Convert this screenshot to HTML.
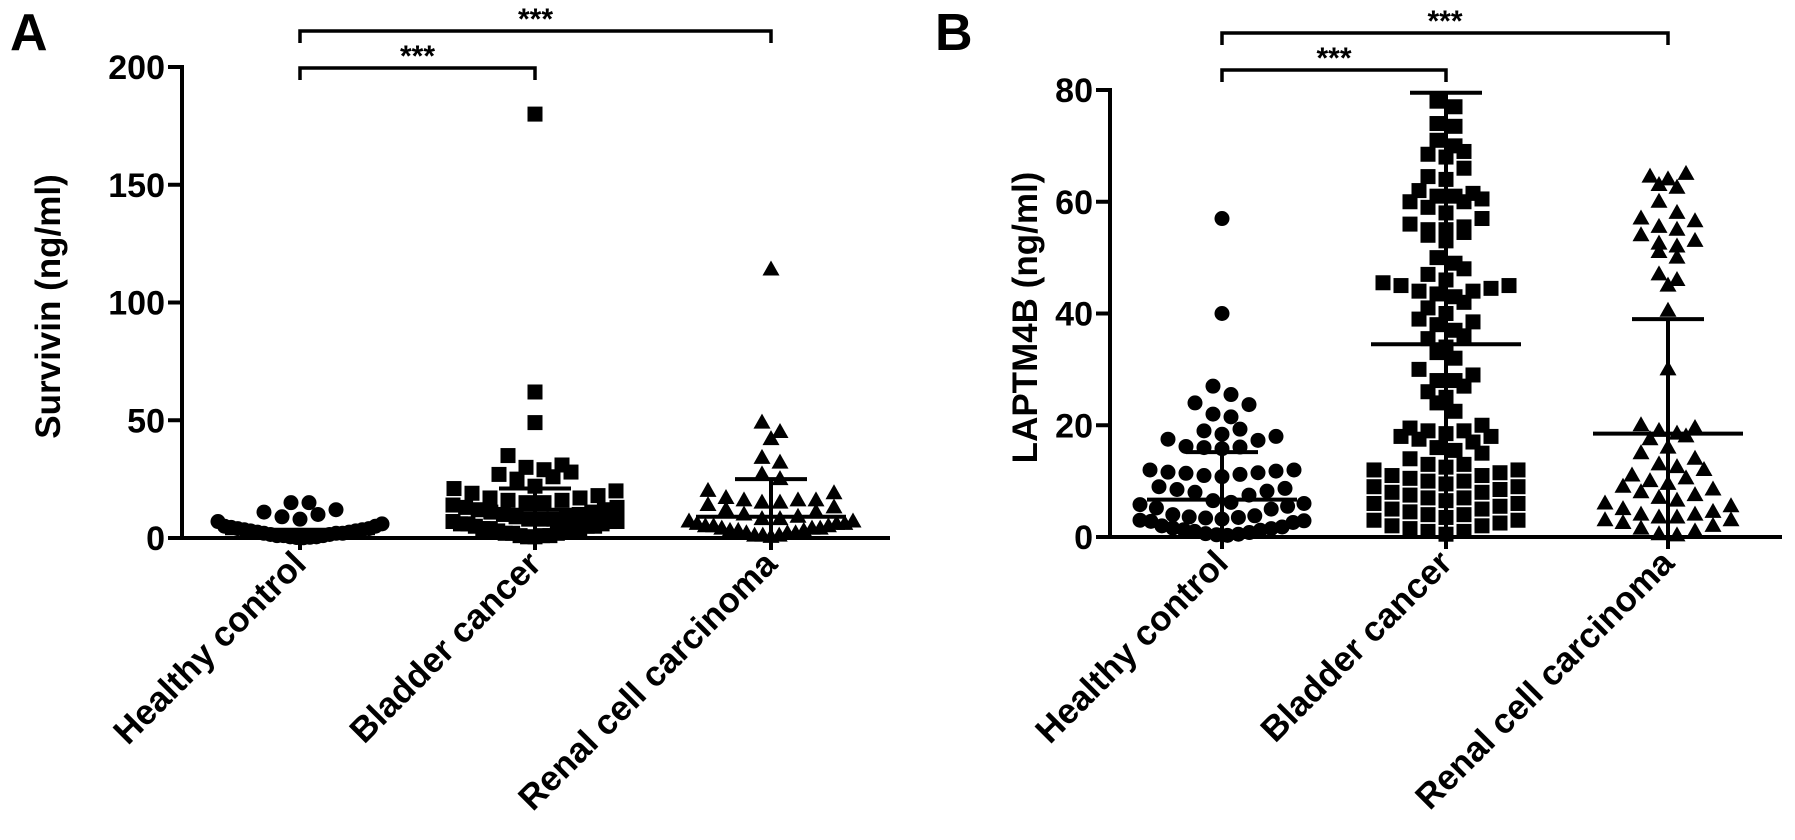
<!DOCTYPE html>
<html><head><meta charset="utf-8">
<style>
html,body{margin:0;padding:0;background:#fff;}
svg{display:block;font-family:"Liberation Sans",Arial,sans-serif;}
</style></head>
<body>
<svg id="fig" width="1795" height="840" viewBox="0 0 1795 840" xmlns="http://www.w3.org/2000/svg">
<g id="panelA"></g>
<g id="panelB"></g>
</svg>
<script>
// ---- data ----
const categories = ["Healthy control", "Bladder cancer", "Renal cell carcinoma"];
const aTicks = [0, 50, 100, 150, 200];
const bTicks = [0, 20, 40, 60, 80];
const aHealthy = [15,15,12,11,10,9,8,7,6,5,5,4.5,4,4,3.5,3.5,3,3,2.5,2.5,2,2,2,1.5,1.5,1,1,1,0.5,0.5,0.3,0.2,0.1];
const aBladder = [180,62,49,35,31,30,29,28,27,26,25,22,21,20,19,18,17,17,16,16,15,15,14,13,13,12,12,11,11,10,10,9,9,8,8,8,7,7,7,6,6,6,5,5,5,4,4,4,3,3,3,2,2,2,1,1,1,0.5,0.5];
const aRenal = [114,49,45,42,34,32,27,25,20,19,17,16,16,16,15,15,14,13,12,11,10,9,8,8,7,7,6,6,6,5,5,5,4,4,4,3,3,3,2,2,2,1,1,1,0.5];
const aMeans = [2, 12, 9];
const aSDs = [1.5, 9, 16];
const bHealthy = [57,40,27,25.5,24,23.7,21.5,22,19.3,19,18.4,18,17.5,17.3,16.2,16,15.8,16.1,12,12,11.5,11.8,11.4,11.6,11,11.2,10.8,9,8.7,8.5,8.2,8,7.5,6.5,6.2,6,5.8,5.5,5.2,5,4,3.8,3.6,3.5,3.4,3.2,3,2.9,2.8,2.6,2,1.8,1.6,1.5,1.3,1.2,1,0.8,0.6,0.5,0.4,0.3];
const bBladder = [78,77,74,73.5,71,70,69,68.5,68,66,64.5,64,62,61.5,61,61,60.5,60,60,59,58,57,56,55.5,55,55,54.5,54,53,50,49,48,47,46,45.5,45,45,44.5,44,44,43.5,43,42,41,40,39,38.5,38,37,36,35.5,34,33,32,30,29,28,28,27,26,25,24,22.5,20,19.5,19,19,18.5,18,18,17.5,17,16,15.5,15,14,13,13,12.5,12,12,11.5,11,11,10.5,10,10,9.5,9,9,8.5,8,8,7.5,7,7,6.5,6,6,5.5,5,5,4.5,4,4,3.5,3,3,2.5,2,2,1.5,1,1,0.5];
const bRenal = [65,64.5,64,63,62.5,60,58,57,56.5,55.5,55,54,53,52.5,52,51,50,47,46,45,40.5,30,20,19.5,19,18.5,18,17.5,16,15,14,13,12.5,12,11,10.5,10,9.5,9,8.5,8,7.5,7,6.5,6,5.5,5,4.5,4,4,3.5,3.5,3,3,2.5,2,1.5,1,0.5,0.3];
const bMeans = [6.7, 34.5, 18.5];
const bSDs = [8.5, 45, 20.5];

const NS = "http://www.w3.org/2000/svg";
function mk(parent, tag, attrs) {
  const e = document.createElementNS(NS, tag);
  for (const k in attrs) e.setAttribute(k, attrs[k]);
  parent.appendChild(e);
  return e;
}

function drawPanel(g, cfg) {
  const yS = v => cfg.y0 - (v - cfg.vmin) / (cfg.vmax - cfg.vmin) * (cfg.y0 - cfg.ytop);
  let e = mk(g, "line", {x1: cfg.ax, y1: cfg.y0 + 2, x2: cfg.ax, y2: cfg.ytop - 2, stroke: "#000", "stroke-width": 4});
  
  
  e = mk(g, "line", {x1: cfg.ax - 14, y1: cfg.y0, x2: cfg.xend, y2: cfg.y0, stroke: "#000", "stroke-width": 4});
  
  
  cfg.ticks.forEach(t => {
    const y = yS(t);
    const l = mk(g, "line", {x1: cfg.ax - 14, y1: y, x2: cfg.ax, y2: y, stroke: "#000", "stroke-width": 4});
    
    
    const tx = mk(g, "text", {x: cfg.ax - 17, y: y + 12, "text-anchor": "end", "font-size": 34, "font-weight": "bold"});
    tx.textContent = t;
    
    
  });
  const yt = mk(g, "text", {x: 0, y: 0, transform: `translate(${cfg.titleX},${(cfg.y0 + cfg.ytop) / 2 + 4}) rotate(-90)`, "text-anchor": "middle", "font-size": 35, "font-weight": "bold"});
  yt.textContent = cfg.title;
  
  
  const pl = mk(g, "text", {x: cfg.letterX, y: 50, "font-size": 52, "font-weight": "bold"});
  pl.textContent = cfg.letter;
  
  
  categories.forEach((c, i) => {
    const x = cfg.cx[i];
    const tk = mk(g, "line", {x1: x, y1: cfg.y0, x2: x, y2: cfg.y0 + 12, stroke: "#000", "stroke-width": 4});
    
    
    const t = mk(g, "text", {x: 0, y: 0, transform: `translate(${x + 8},${cfg.y0 + 28}) rotate(-45)`, "text-anchor": "end", "font-size": 35, "font-weight": "bold"});
    t.textContent = c;
    
    
  });
  const shapes = ["circle", "square", "triangle"];
  const M = 15, maxHalf = 82, binH = 17;
  cfg.series.forEach((vals, i) => {
    const sg = mk(g, "g", {});
    
    
    const sorted = vals.slice().sort((a, b) => a - b);
    const bins = {};
    sorted.forEach(v => {
      const b = Math.floor((cfg.y0 - yS(v)) / binH);
      (bins[b] = bins[b] || []).push(v);
    });
    Object.keys(bins).forEach(k => {
      const row = bins[k];
      const n = row.length;
      let sp = M + 3;
      if ((n - 1) * sp / 2 > maxHalf) sp = 2 * maxHalf / (n - 1);
      const order = row.slice().sort((a, b) => a - b);
      order.forEach((v, j) => {
        const slot = n % 2 ? (j === 0 ? 0 : Math.ceil(j / 2) * (j % 2 ? -1 : 1)) : (Math.floor(j / 2) + 0.5) * (j % 2 ? -1 : 1);
        const x = cfg.cx[i] + slot * sp;
        const y = yS(v);
        let m;
        if (i === 0) m = mk(sg, "circle", {cx: x, cy: y, r: 7.5, fill: "#000"});
        else if (i === 1) m = mk(sg, "rect", {x: x - 7.5, y: y - 7.5, width: 15, height: 15, fill: "#000"});
        else m = mk(sg, "polygon", {points: `${x},${y - 9} ${x - 8.5},${y + 6} ${x + 8.5},${y + 6}`, fill: "#000"});
        
        
      });
    });
  });
  cfg.means.forEach((mu, i) => {
    const x = cfg.cx[i];
    const hi = Math.min(mu + cfg.sds[i], cfg.vmax), lo = Math.max(mu - cfg.sds[i], cfg.vmin);
    const eg = mk(g, "g", {});
    
    
    mk(eg, "line", {x1: x - 75, y1: yS(mu), x2: x + 75, y2: yS(mu), stroke: "#000", "stroke-width": 4});
    mk(eg, "line", {x1: x, y1: yS(lo), x2: x, y2: yS(hi), stroke: "#000", "stroke-width": 4});
    mk(eg, "line", {x1: x - 36, y1: yS(hi), x2: x + 36, y2: yS(hi), stroke: "#000", "stroke-width": 4});
  });
  cfg.brackets.forEach(b => {
    const bg = mk(g, "g", {});
    
    
    const x1 = cfg.cx[b.from], x2 = cfg.cx[b.to];
    mk(bg, "polyline", {points: `${x1},${b.y + 12} ${x1},${b.y} ${x2},${b.y} ${x2},${b.y + 12}`, fill: "none", stroke: "#000", "stroke-width": 3.5});
    const s = mk(bg, "text", {x: (x1 + x2) / 2, y: b.y - 2, "text-anchor": "middle", "font-size": 30, "font-weight": "bold"});
    s.textContent = "***";
  });
}

drawPanel(document.getElementById("panelA"), {
  ax: 182, y0: 538, ytop: 67, vmin: 0, vmax: 200, xend: 890,
  cx: [300, 535, 771], ticks: aTicks, title: "Survivin (ng/ml)", titleX: 60,
  letter: "A", letterX: 10, series: [aHealthy, aBladder, aRenal], means: aMeans, sds: aSDs,
  brackets: [{from: 0, to: 2, y: 31}, {from: 0, to: 1, y: 68}]
});
drawPanel(document.getElementById("panelB"), {
  ax: 1110, y0: 537, ytop: 90, vmin: 0, vmax: 80, xend: 1782,
  cx: [1222, 1446, 1668], ticks: bTicks, title: "LAPTM4B (ng/ml)", titleX: 1037,
  letter: "B", letterX: 935, series: [bHealthy, bBladder, bRenal], means: bMeans, sds: bSDs,
  brackets: [{from: 0, to: 2, y: 33}, {from: 0, to: 1, y: 70}]
});
</script>
</body></html>
